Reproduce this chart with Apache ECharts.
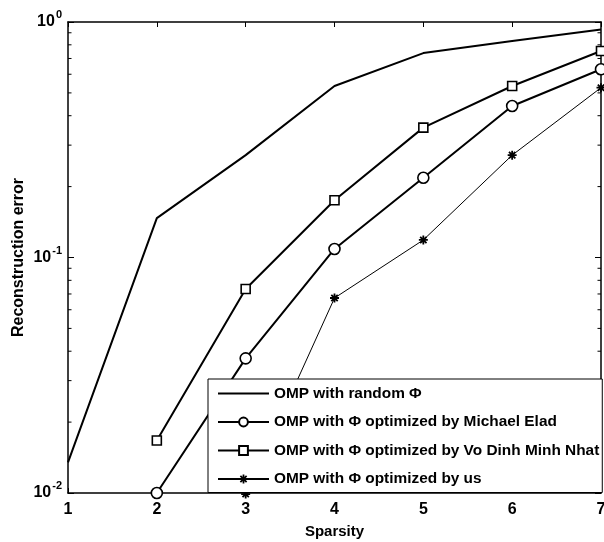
<!DOCTYPE html>
<html>
<head>
<meta charset="utf-8">
<script src="https://cdn.jsdelivr.net/npm/echarts@6/dist/echarts.min.js"></script>
<style>
  html, body { margin: 0; padding: 0; background: #fff; }
  #chart { width: 604px; height: 542px; }
</style>
</head>
<body>
<div id="chart"></div>
<script>
// Sparsity levels on the x axis
const sparsity = [1, 2, 3, 4, 5, 6, 7];

// Reconstruction error per method
const randomPhi = [0.0135, 0.147, 0.272, 0.535, 0.738, 0.83, 0.93];
const eladPhi   = [null, 0.0100, 0.0373, 0.1087, 0.218, 0.44, 0.63];
const nhatPhi   = [null, 0.0167, 0.0735, 0.175, 0.356, 0.535, 0.753];
const oursPhi   = [null, null, 0.0099, 0.0673, 0.1187, 0.272, 0.526];

const seriesNames = [
  'OMP with random \u03A6',
  'OMP with \u03A6 optimized by Michael Elad',
  'OMP with \u03A6 optimized by Vo Dinh Minh Nhat',
  'OMP with \u03A6 optimized by us'
];

// Minor tick positions of the log axis (2..9 within each decade)
const minorTickValues = [0.02, 0.03, 0.04, 0.05, 0.06, 0.07, 0.08, 0.09,
                         0.2, 0.3, 0.4, 0.5, 0.6, 0.7, 0.8, 0.9];

const FONT = 'Liberation Sans, Arial, sans-serif';

function pairs(ys) {
  const out = [];
  ys.forEach((y, i) => { if (y !== null) out.push([sparsity[i], y]); });
  return out;
}

// asterisk marker built from four thin bars
const asterisk = 'path://M-1,-5 L1,-5 L1,5 L-1,5 Z M-5,-1 L5,-1 L5,1 L-5,1 Z ' +
  'M-2.83,-4.24 L4.24,2.83 L2.83,4.24 L-4.24,-2.83 Z ' +
  'M-4.24,2.83 L2.83,-4.24 L4.24,-2.83 L-2.83,4.24 Z';

const chart = echarts.init(document.getElementById('chart'));

const xCommon = {
  type: 'value', min: 1, max: 7, interval: 1,
  axisLine: { show: true, onZero: false, lineStyle: { color: '#000', width: 1.5 } },
  axisTick: { show: true, inside: true, length: 5, lineStyle: { color: '#000', width: 1 } },
  splitLine: { show: false }
};
const yCommon = {
  type: 'log', logBase: 10, min: 0.01, max: 1,
  axisLine: { show: true, onZero: false, lineStyle: { color: '#000', width: 1.5 } },
  axisTick: { show: true, inside: true, length: 6, lineStyle: { color: '#000', width: 1 } },
  splitLine: { show: false }
};

chart.setOption({
  animation: false,
  backgroundColor: '#fff',
  grid: { left: 68, top: 22, right: 3, bottom: 49, containLabel: false, outerBoundsMode: 'none' },
  xAxis: [
    Object.assign({}, xCommon, {
      position: 'bottom',
      name: 'Sparsity', nameLocation: 'middle', nameGap: 31, nameMoveOverlap: false,
      nameTextStyle: { color: '#000', fontFamily: FONT, fontWeight: 'bold', fontSize: 15 },
      axisLabel: { color: '#000', fontFamily: FONT, fontWeight: 'bold', fontSize: 16, margin: 9 }
    }),
    Object.assign({}, xCommon, { position: 'top', axisLabel: { show: false } })
  ],
  yAxis: [
    Object.assign({}, yCommon, {
      position: 'left',
      name: 'Reconstruction error', nameLocation: 'middle', nameGap: 41, nameMoveOverlap: false,
      nameTextStyle: { color: '#000', fontFamily: FONT, fontWeight: 'bold', fontSize: 16 },
      axisLabel: {
        margin: 6,
        formatter: function (v) {
          const e = Math.round(Math.log10(v));
          return '{b|10}{s|' + (e === 0 ? '0' : '-' + Math.abs(e)) + '}';
        },
        rich: {
          b: { color: '#000', fontFamily: FONT, fontWeight: 'bold', fontSize: 16 },
          s: { color: '#000', fontFamily: FONT, fontWeight: 'bold', fontSize: 11, padding: [0, 0, 14, 1] }
        }
      }
    }),
    Object.assign({}, yCommon, { position: 'right', axisLabel: { show: false } })
  ],
  legend: {
    orient: 'vertical',
    left: 208, top: 379,
    padding: [7, 3, 6, 9],
    itemWidth: 51, itemHeight: 11, itemGap: 13.5,
    backgroundColor: '#fff',
    borderColor: '#000', borderWidth: 1,
    textStyle: { color: '#000', fontFamily: FONT, fontWeight: 'bold', fontSize: 15.4 },
    data: [
      { name: seriesNames[0], itemStyle: { opacity: 0 } },
      { name: seriesNames[1] },
      { name: seriesNames[2] },
      { name: seriesNames[3] }
    ]
  },
  series: [
    {
      name: seriesNames[0], type: 'line', data: pairs(randomPhi),
      symbol: 'none', clip: false,
      lineStyle: { color: '#000', width: 2 },
      itemStyle: { color: '#000' }, z: 3
    },
    {
      name: seriesNames[1], type: 'line', data: pairs(eladPhi),
      symbol: 'circle', symbolSize: 11, clip: false,
      lineStyle: { color: '#000', width: 2 },
      itemStyle: { color: '#fff', borderColor: '#000', borderWidth: 1.6 }, z: 3
    },
    {
      name: seriesNames[2], type: 'line', data: pairs(nhatPhi),
      symbol: 'rect', symbolSize: 9, clip: false,
      lineStyle: { color: '#000', width: 2 },
      itemStyle: { color: '#fff', borderColor: '#000', borderWidth: 1.6 }, z: 3
    },
    {
      name: seriesNames[3], type: 'line', data: pairs(oursPhi),
      symbol: asterisk, symbolSize: 9, clip: false,
      lineStyle: { color: '#000', width: 1 },
      itemStyle: { color: '#000' }, z: 3
    },
    {
      // minor ticks of the log axis, drawn inward on both vertical edges
      type: 'custom', silent: true, clip: false, z: 2,
      data: minorTickValues.map(v => [1, v]),
      renderItem: function (params, api) {
        const v = api.value(1);
        const l = api.coord([1, v]);
        const r = api.coord([7, v]);
        const st = { stroke: '#000', lineWidth: 1 };
        return {
          type: 'group',
          children: [
            { type: 'line', shape: { x1: l[0], y1: l[1], x2: l[0] + 3.5, y2: l[1] }, style: st },
            { type: 'line', shape: { x1: r[0], y1: r[1], x2: r[0] - 3.5, y2: r[1] }, style: st }
          ]
        };
      }
    }
  ]
});
</script>
</body>
</html>
